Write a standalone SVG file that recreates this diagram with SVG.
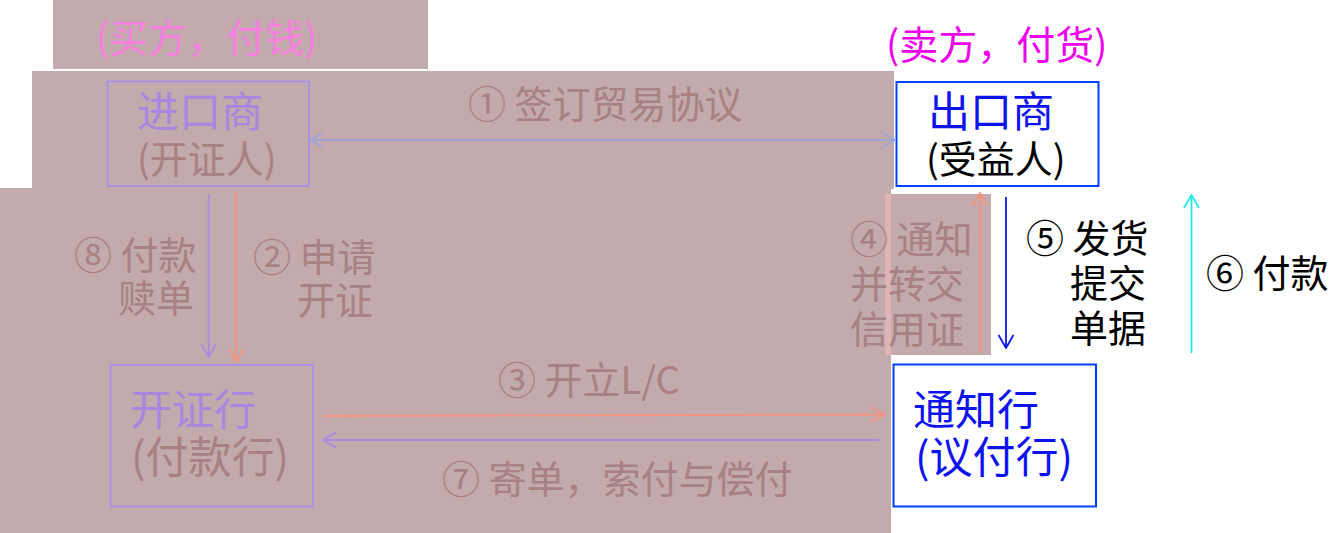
<svg xmlns="http://www.w3.org/2000/svg" width="1332" height="533" viewBox="0 0 1332 533">
<style>
text{font-family:"Noto Sans CJK SC","Noto Sans",sans-serif;}
.t{font-size:42px;}
.s{font-size:38px;}
.l{font-size:38px;}
.dim{fill:#A88183;}
.pur{fill:#A987E0;}
.blk{fill:#000000;}
.blu{fill:#0D12F0;}
.ln{fill:none;stroke-width:1.8;}
</style>
<defs>
<marker id="mP" viewBox="0 0 15 17" refX="14" refY="8.5" markerWidth="15" markerHeight="17" markerUnits="userSpaceOnUse" orient="auto-start-reverse"><path d="M1,1 L14,8.5 L1,16" fill="none" stroke="#A98BE3" stroke-width="1.8"/></marker>
<marker id="mS" viewBox="0 0 15 17" refX="14" refY="8.5" markerWidth="15" markerHeight="17" markerUnits="userSpaceOnUse" orient="auto-start-reverse"><path d="M1,1 L14,8.5 L1,16" fill="none" stroke="#F4937F" stroke-width="1.8"/></marker>
<marker id="mL" viewBox="0 0 15 17" refX="14" refY="8.5" markerWidth="15" markerHeight="17" markerUnits="userSpaceOnUse" orient="auto-start-reverse"><path d="M1,1 L14,8.5 L1,16" fill="none" stroke="#A3A3D8" stroke-width="1.8"/></marker>
<marker id="mB" viewBox="0 0 15 17" refX="14" refY="8.5" markerWidth="15" markerHeight="17" markerUnits="userSpaceOnUse" orient="auto-start-reverse"><path d="M1,1 L14,8.5 L1,16" fill="none" stroke="#0A1AE8" stroke-width="1.8"/></marker>
<marker id="mC" viewBox="0 0 15 17" refX="14" refY="8.5" markerWidth="15" markerHeight="17" markerUnits="userSpaceOnUse" orient="auto-start-reverse"><path d="M1,1 L14,8.5 L1,16" fill="none" stroke="#22E8EE" stroke-width="1.8"/></marker>
</defs>
<rect width="1332" height="533" fill="#FFFFFF"/>
<g id="overlay" fill="#C3AAAC">
<rect x="53" y="0" width="375" height="69"/>
<rect x="32" y="71" width="862" height="118"/>
<rect x="0" y="188" width="891" height="345"/>
<rect x="885" y="194" width="106" height="161"/>
<rect x="885" y="194" width="6" height="161" fill="#E0B3B6"/>
</g>
<g id="captions">
<text class="l" x="96" y="52" style="font-size:39px" fill="#F77FDF">(买方，付钱)</text>
<text class="l" x="886" y="59" style="font-size:39px" fill="#EE00EE">(卖方，付货)</text>
</g>
<g id="importer">
<rect x="107.5" y="81.5" width="201.5" height="104.5" fill="none" stroke="#A98FE8" stroke-width="1.8"/>
<text class="t pur" x="137" y="127">进口商</text>
<text class="s dim" x="137" y="173">(开证人)</text>
</g>
<g id="exporter">
<rect x="896.5" y="82" width="202" height="104" fill="none" stroke="#0040FF" stroke-width="2"/>
<text class="t blu" x="928" y="127">出口商</text>
<text class="s blk" x="926" y="173">(受益人)</text>
</g>
<g id="issuing-bank">
<rect x="110.5" y="365" width="202.5" height="141.5" fill="none" stroke="#A98FE8" stroke-width="1.8"/>
<text class="t pur" x="130" y="425">开证行</text>
<text class="s dim" x="131" y="473" style="font-size:43px">(付款行)</text>
</g>
<g id="advising-bank">
<rect x="893.5" y="364.5" width="202.5" height="142" fill="none" stroke="#0040FF" stroke-width="2"/>
<text class="t blu" x="913" y="425">通知行</text>
<text class="t blu" x="915" y="473" style="font-size:43px">(议付行)</text>
</g>
<g id="connectors">
<line class="ln" x1="310" y1="140" x2="895" y2="140" stroke="#A3A3D8" marker-start="url(#mL)" marker-end="url(#mL)"/>
<line class="ln" x1="208.7" y1="194" x2="208.7" y2="357" stroke="#A98BE3" marker-end="url(#mP)"/>
<line class="ln" x1="236" y1="192" x2="236" y2="362" stroke="#F4937F" marker-end="url(#mS)"/>
<line class="ln" x1="322" y1="416" x2="884" y2="414.5" stroke="#F4937F" marker-end="url(#mS)"/>
<line class="ln" x1="879" y1="440" x2="323" y2="440" stroke="#A98BE3" marker-end="url(#mP)"/>
<line class="ln" x1="980" y1="352" x2="980" y2="193" stroke="#F4937F" marker-end="url(#mS)"/>
<line class="ln" x1="1006" y1="197" x2="1006" y2="348" stroke="#0A1AE8" marker-end="url(#mB)"/>
<line class="ln" x1="1191.5" y1="353" x2="1191.5" y2="195" stroke="#22E8EE" marker-end="url(#mC)"/>
</g>
<g id="labels">
<text class="l dim" x="468" y="118">① 签订贸易协议</text>
<text class="l dim" x="74" y="269">⑧ 付款</text>
<text class="l dim" x="118" y="312">赎单</text>
<text class="l dim" x="253" y="271">② 申请</text>
<text class="l dim" x="297" y="314">开证</text>
<text class="l dim" x="498" y="394">③ 开立L/C</text>
<text class="l dim" x="442" y="493">⑦ 寄单，索付与偿付</text>
<text class="l dim" x="850" y="253">④ 通知</text>
<text class="l dim" x="850" y="298">并转交</text>
<text class="l dim" x="850" y="343">信用证</text>
<text class="l blk" x="1026" y="252">⑤ 发货</text>
<text class="l blk" x="1070" y="297">提交</text>
<text class="l blk" x="1070" y="342">单据</text>
<text class="l blk" x="1206" y="287">⑥ 付款</text>
</g>
</svg>
